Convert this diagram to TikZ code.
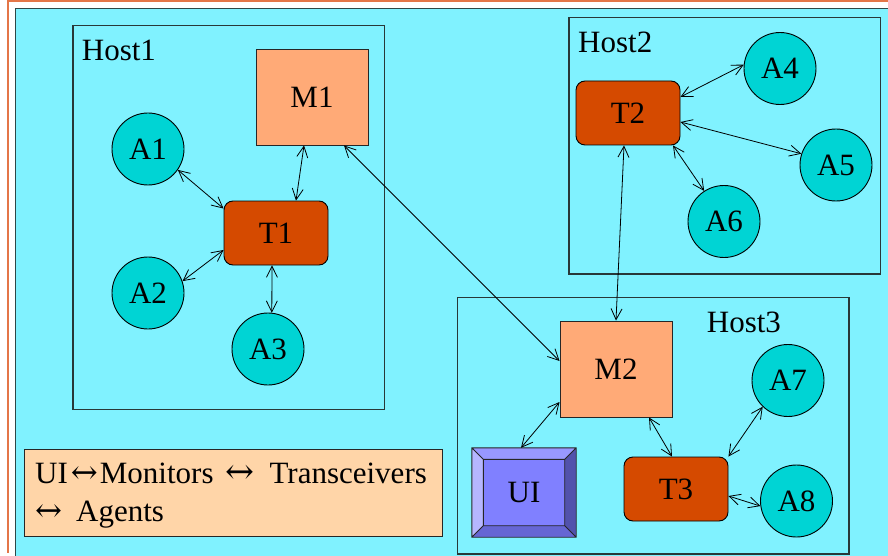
\documentclass[tikz,border=0pt]{standalone}
\usepackage{fontspec}
\setmainfont{Liberation Serif}
\newfontfamily\arrowglyph{DejaVu Serif}
\usetikzlibrary{arrows.meta,calc}

\definecolor{panelcyan}{RGB}{128,242,255}
\definecolor{panelline}{RGB}{46,72,72}
\definecolor{framered}{RGB}{228,118,72}
\definecolor{agentfill}{RGB}{0,212,212}
\definecolor{transfill}{RGB}{213,74,0}
\definecolor{monfill}{RGB}{255,170,119}
\definecolor{legendfill}{RGB}{255,213,168}
\definecolor{hostline}{RGB}{40,56,56}
\definecolor{uiface}{RGB}{128,128,255}
\definecolor{uitop}{RGB}{152,152,255}
\definecolor{uileft}{RGB}{182,182,255}
\definecolor{uiright}{RGB}{82,82,172}
\definecolor{uibottom}{RGB}{102,102,212}

% two-headed arrow glyph used in the legend, fixed width
\newcommand{\lrarrow}[1][27pt]{\resizebox{#1}{!}{\arrowglyph ↔}}

\begin{document}
\begin{tikzpicture}[x=1pt,y=-1pt,
  every node/.style={font=\fontsize{31}{37}\selectfont},
  agent/.style={circle, draw=black, line width=0.9pt, fill=agentfill,
    minimum size=72pt, inner sep=0pt},
  trans/.style={rectangle, rounded corners=9pt, draw=black, line width=0.9pt,
    fill=transfill, minimum width=104pt, minimum height=64pt, inner sep=0pt},
  monitor/.style={rectangle, draw=black!85, line width=0.9pt, fill=monfill,
    minimum width=112pt, minimum height=96pt, inner sep=0pt},
  hostbox/.style={rectangle, draw=hostline, line width=1.2pt, inner sep=0pt,
    anchor=north west},
  hosttitle/.style={anchor=base west, inner sep=0pt},
  conn/.style={draw=black, line width=0.8pt,
    {Straight Barb[length=11pt,width=11pt]}-{Straight Barb[length=11pt,width=11pt]}},
]
\useasboundingbox (0,0) rectangle (888,556);

% page frame and cyan panel
\fill[white] (0,0) rectangle (888,556);
\draw[framered, line width=1.8pt] (7,1) -- (890,1);
\draw[framered, line width=1.5pt] (8,1) -- (8,553);
\fill[panelcyan] (15.5,8.5) rectangle (900,570);
\draw[panelline, line width=1.5pt] (15.5,570) -- (15.5,8.5) -- (900,8.5);

% host boundaries
\node[hostbox, minimum width=311.7pt, minimum height=384pt] (host1) at (72.3,25) {};
\node[hostbox, minimum width=311.7pt, minimum height=256.6pt] (host2) at (568.3,16.7) {};
\node[hostbox, minimum width=391.6pt, minimum height=256.6pt] (host3) at (456.7,296.7) {};
\node[hosttitle] (host1t) at (81.7,60.7) {Host1};
\node[hosttitle] (host2t) at (578,52.3) {Host2};
\node[hosttitle] (host3t) at (706.7,332.7) {Host3};

% Host1
\node[monitor] (M1) at (312,97) {M1};
\node[trans] (T1) at (276,233) {T1};
\node[agent] (A1) at (148,149) {A1};
\node[agent] (A2) at (148,293) {A2};
\node[agent] (A3) at (268,349) {A3};

% Host2
\node[trans] (T2) at (628,113) {T2};
\node[agent] (A4) at (780,68.5) {A4};
\node[agent] (A5) at (836,165) {A5};
\node[agent] (A6) at (724,221.5) {A6};

% Host3
\node[monitor] (M2) at (616,369) {M2};
\node[trans] (T3) at (676,489) {T3};
\node[agent] (A7) at (788,380.5) {A7};
\node[agent] (A8) at (796.5,501) {A8};

% bevelled UI button
\node[rectangle, fill=uiface, minimum width=104pt, minimum height=89pt,
  inner sep=0pt] (UI) at (524,492.5) {};
\coordinate (uinw) at ($(UI.north west)+(11.5,11.5)$);
\coordinate (uine) at ($(UI.north east)+(-11.5,11.5)$);
\coordinate (uisw) at ($(UI.south west)+(11.5,-11.5)$);
\coordinate (uise) at ($(UI.south east)+(-11.5,-11.5)$);
\fill[uitop] (UI.north west) -- (UI.north east) -- (uine) -- (uinw) -- cycle;
\fill[uileft] (UI.north west) -- (UI.south west) -- (uisw) -- (uinw) -- cycle;
\fill[uiright] (UI.north east) -- (UI.south east) -- (uise) -- (uine) -- cycle;
\fill[uibottom] (UI.south west) -- (UI.south east) -- (uise) -- (uisw) -- cycle;
\draw[black!85, line width=0.9pt] (UI.north west) rectangle (UI.south east)
  (uinw) rectangle (uise)
  (UI.north west) -- (uinw) (UI.north east) -- (uine)
  (UI.south west) -- (uisw) (UI.south east) -- (uise);
\node[inner sep=0pt] (UIt) at (UI.center) {UI};

% legend
\node[rectangle, draw=black!85, line width=0.9pt, fill=legendfill,
  minimum width=417.4pt, minimum height=86.7pt, inner sep=0pt,
  anchor=north west] (legend) at (24.3,449.3) {};
\node[hosttitle] (leg1) at (35,483.3)
  {UI\hspace{3pt}\lrarrow\hspace{2pt}Monitors\hspace{12pt}\lrarrow[29pt]\hspace{15pt}Transceivers};
\node[hosttitle] (leg2) at (35,521.7) {\lrarrow\hspace{14pt}Agents};

% connections
\draw[conn] (A1.-35) -- (T1.155);
\draw[conn] ([xshift=-8pt]M1.south) -- ([xshift=20pt]T1.north);
\draw[conn] (A2.19) -- ([yshift=-17pt]T1.west);
\draw[conn] ([xshift=-4pt]T1.south) -- (A3.84);
\draw[conn] ([xshift=32pt]M1.south) -- ([yshift=8pt]M2.west);
\draw[conn] ([xshift=-4pt]T2.south) -- (M2.north);
\draw[conn] ([yshift=16pt]T2.east) -- (A4.174);
\draw[conn] ([yshift=-9pt]T2.east) -- (A5.162);
\draw[conn] ([xshift=45pt]T2.south) -- (A6.123);
\draw[conn] ([xshift=-3pt]UI.north) -- ([yshift=-33pt]M2.west);
\draw[conn] ([xshift=33pt]M2.south) -- ([xshift=-4pt]T3.north);
\draw[conn] (T3.north east) -- (A7.226);
\draw[conn] ([yshift=-7pt]T3.east) -- (A8.188);
\end{tikzpicture}
\end{document}
